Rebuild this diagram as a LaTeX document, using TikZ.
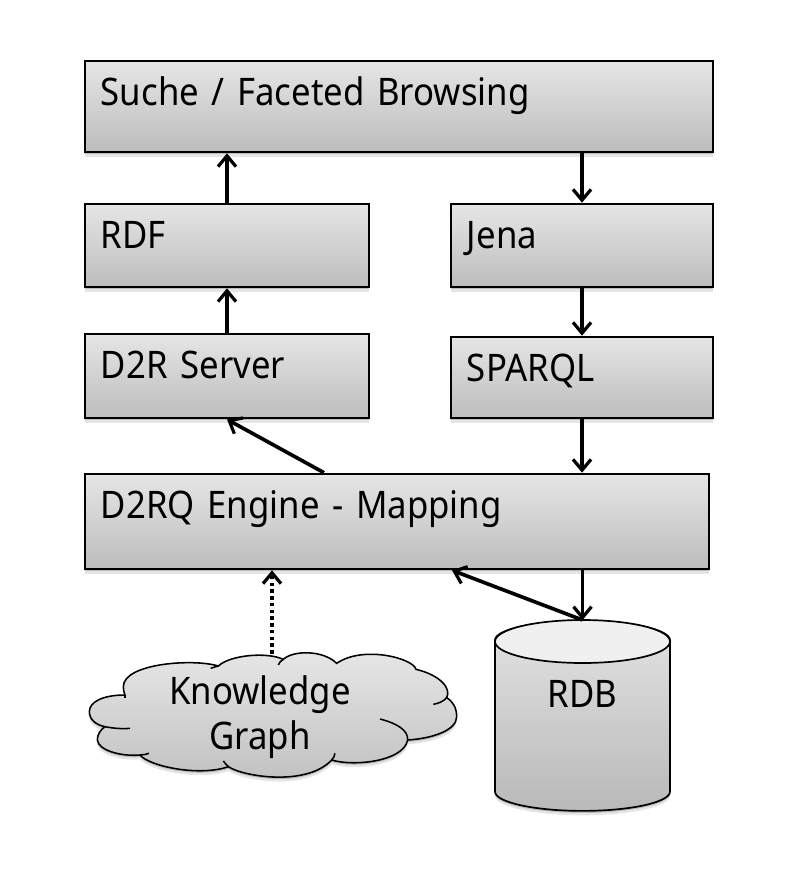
\documentclass[tikz,border=0pt]{standalone}
\usepackage{fontspec}
\setmainfont[FakeStretch=0.915]{Noto Sans}
\usetikzlibrary{arrows.meta,calc,shadows,shapes.geometric}

\begin{document}
\begin{tikzpicture}[
    x=0.025cm, y=-0.025cm,
    softshadow/.style={drop shadow={shadow xshift=0cm, shadow yshift=-0.11cm, opacity=0.1, fill=black},
                       drop shadow={shadow xshift=0cm, shadow yshift=-0.05cm, opacity=0.18, fill=black}},
    flowbox/.style={rectangle, draw=black, line width=1.7pt, top color=gray!20, bottom color=gray!52,
                    softshadow, inner xsep=0.4cm, inner ysep=0pt, align=left, text height=1.11cm,
                    font=\fontsize{27}{32}\selectfont},
    flow/.style={-{Straight Barb[length=0.27cm, width=0.45cm, line width=2.3pt]}, line width=2.6pt, draw=black},
    hint/.style={flow, dash pattern=on 2.6pt off 2.2pt}
]

\useasboundingbox (0,0) rectangle (796,869);

% Obere Reihe
\node[flowbox, text width=14.9cm, text depth=1.17cm] at (399,106.5) (search) {Suche / Faceted Browsing};

\node[flowbox, text width=6.3cm, text depth=0.97cm] at (227,245.5) (rdf) {RDF};
\node[flowbox, text width=5.75cm, text depth=0.97cm] at (582,245.5) (jena) {Jena};

\node[flowbox, text width=6.3cm, text depth=1cm] at (227,376) (d2r) {D2R Server};
\node[flowbox, text width=5.75cm, text depth=0.92cm] at (582,377.5) (sparql) {SPARQL};

\node[flowbox, text width=14.8cm, text depth=1.27cm] at (397,521.5) (engine) {D2RQ Engine - Mapping};

% Datenbank
\node[cylinder, shape border rotate=90, draw=black, line width=1.2pt, top color=gray!22, bottom color=gray!55,
      softshadow, aspect=0.49, minimum width=4.375cm, minimum height=4.75cm, align=center, anchor=top,
      font=\fontsize{27}{32}\selectfont] at (582.5,620) (rdb) {RDB\\[0.65cm]~};
\draw[black, line width=1.2pt, fill=gray!12] ($(rdb.top)+(0,21.5)$) ellipse [x radius=87.5, y radius=21.5];

% Wolke
\begin{scope}[shift={(60,560)}, x=0.00833cm, y=-0.00833cm]
\path[draw=black, line width=1.1pt, top color=gray!18, bottom color=gray!50, softshadow]
    (195,405) .. controls (130,405) and (88,425) .. (88,455)
    .. controls (88,480) and (110,495) .. (135,500)
    .. controls (120,510) and (112,525) .. (112,540)
    .. controls (115,570) and (180,590) .. (240,585)
    .. controls (270,620) and (420,650) .. (505,620)
    .. controls (550,650) and (740,680) .. (815,600)
    .. controls (880,620) and (1030,605) .. (1043,540)
    .. controls (1120,535) and (1190,510) .. (1190,470)
    .. controls (1190,445) and (1180,425) .. (1160,413)
    .. controls (1175,385) and (1140,345) .. (1068,328)
    .. controls (1060,295) and (910,255) .. (830,310)
    .. controls (790,270) and (700,270) .. (670,298)
    .. controls (620,275) and (510,285) .. (475,318)
    .. controls (400,295) and (190,310) .. (190,380)
    .. controls (190,390) and (192,398) .. (195,405) -- cycle;
\draw[black, line width=1.1pt] (135,500) .. controls (160,505) and (185,507) .. (210,505);
\draw[black, line width=1.1pt] (240,585) .. controls (250,585) and (258,583) .. (267,580);
\draw[black, line width=1.1pt] (505,620) .. controls (500,615) and (495,610) .. (490,603);
\draw[black, line width=1.1pt] (815,600) .. controls (820,595) and (824,588) .. (825,580);
\draw[black, line width=1.1pt] (1043,540) .. controls (1045,510) and (1010,490) .. (960,477);
\draw[black, line width=1.1pt] (1160,413) .. controls (1150,425) and (1135,430) .. (1120,433);
\draw[black, line width=1.1pt] (670,298) .. controls (662,303) and (657,308) .. (655,315);
\draw[black, line width=1.1pt] (475,318) .. controls (468,320) and (460,322) .. (452,325);
\draw[black, line width=1.1pt] (195,405) .. controls (196,408) and (196,412) .. (195,415);
\end{scope}
\node[minimum width=8.5cm, minimum height=3.15cm, align=center, font=\fontsize{27}{32}\selectfont] at (260,717) (kg) {Knowledge\\Graph};

% Pfeile
\draw[flow] (rdf.north) -- (rdf.north |- search.south);
\draw[flow] (d2r.north) -- (rdf.south);
\draw[flow] (search.south -| jena.north) -- (jena.north);
\draw[flow] (jena.south) -- (sparql.north);
\draw[flow] (sparql.south) -- (sparql.south |- engine.north);
\draw[flow] ([xshift=-1.825cm]engine.north) -- (d2r.south);
\draw[flow] (engine.south -| rdb.top) -- (rdb.top);
\draw[flow] (rdb.top) -- ([xshift=1.375cm]engine.south);
\draw[hint] ([xshift=0.3cm]kg.north) -- ([xshift=0.3cm]kg.north |- engine.south);

\end{tikzpicture}
\end{document}
